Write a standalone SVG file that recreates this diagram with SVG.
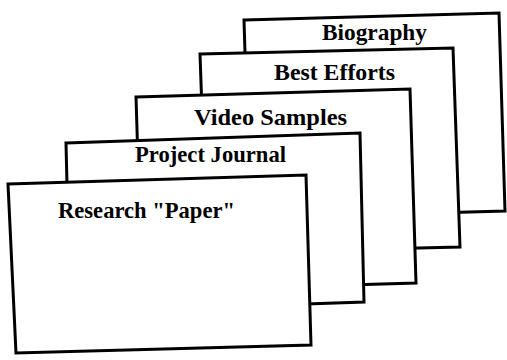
<svg xmlns="http://www.w3.org/2000/svg" width="507" height="360" viewBox="0 0 507 360">
<style>
.card{fill:#fff;stroke:#000;stroke-width:3;stroke-linejoin:miter}
.lbl{font-family:"Liberation Serif","Times New Roman",serif;font-weight:bold;font-size:23px;fill:#000}
</style>
<rect width="507" height="360" fill="#fff"/>
<g id="biography">
<polygon class="card" points="244,20 499,13 505,211 250,218"/>
<text class="lbl" x="322" y="40" textLength="105" lengthAdjust="spacingAndGlyphs">Biography</text>
</g>
<g id="best-efforts">
<polygon class="card" points="200,54 453,48 460,247 207,253"/>
<text class="lbl" x="274" y="80" textLength="121" lengthAdjust="spacingAndGlyphs">Best Efforts</text>
</g>
<g id="video-samples">
<polygon class="card" points="136,97 410,89 416,283 142,291"/>
<text class="lbl" x="194" y="125" textLength="153" lengthAdjust="spacingAndGlyphs">Video Samples</text>
</g>
<g id="project-journal">
<polygon class="card" points="66,143 360,133 364,302 70,312"/>
<text class="lbl" x="135" y="162" textLength="151" lengthAdjust="spacingAndGlyphs">Project Journal</text>
</g>
<g id="research-paper">
<polygon class="card" points="8,184 306,175 311,345 16,353"/>
<text class="lbl" x="58" y="218" textLength="177" lengthAdjust="spacingAndGlyphs">Research "Paper"</text>
</g>
<g id="connectors"></g>
</svg>
